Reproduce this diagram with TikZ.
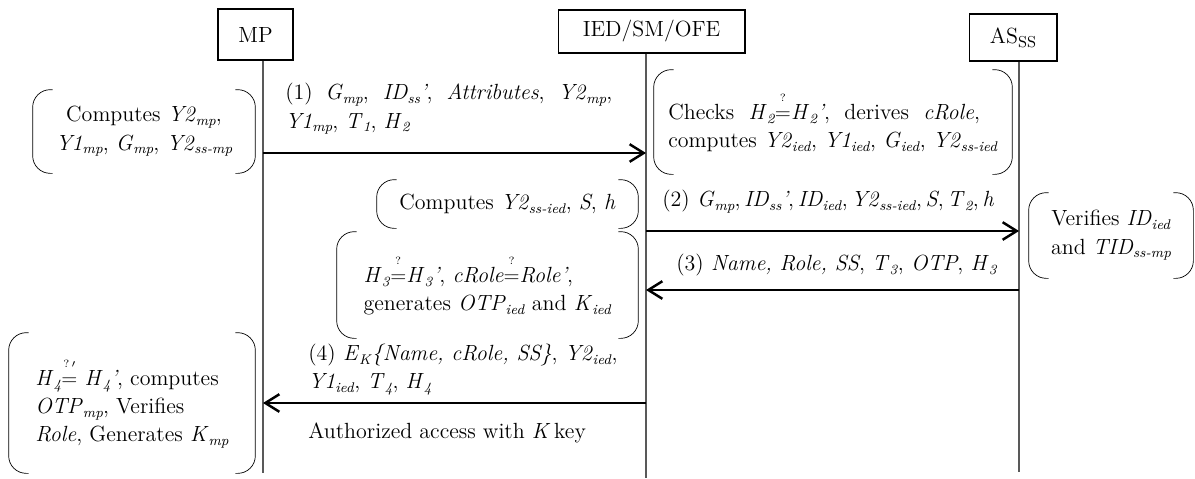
\documentclass[tikz,border=0pt]{standalone}
\usepackage{amsmath}
\usepackage{amssymb}
\usepackage{tikz}
\usetikzlibrary{arrows.meta}

\newcommand{\iv}[2]{\textit{#1}\raisebox{-0.4ex}{\fontsize{8}{8}\selectfont\textit{#2}}}
\newcommand{\qeq}[1]{$\stackrel{\raisebox{0.6ex}{$\scriptscriptstyle #1$}}{=}$}
\newcommand{\brk}[1]{%
	\draw[rounded corners=10pt] ([xshift=0.4cm]#1.north west) -- (#1.north west) -- (#1.south west) -- ([xshift=0.4cm]#1.south west);
	\draw[rounded corners=10pt] ([xshift=-0.4cm]#1.north east) -- (#1.north east) -- (#1.south east) -- ([xshift=-0.4cm]#1.south east);}

\begin{document}
\begin{tikzpicture}[x=0.02cm,y=-0.02cm,font=\fontsize{12.5}{16}\selectfont]
	\tikzstyle{entity}=[draw,line width=0.6pt,inner sep=0pt]
	\tikzstyle{lifeline}=[draw=black!65,line width=0.8pt]
	\tikzstyle{msg}=[line width=1.4pt,-{Straight Barb[length=8pt,width=10pt]}]
	\tikzstyle{note}=[inner sep=0pt,align=center]
	\tikzstyle{lbl}=[inner sep=0pt,anchor=west,align=left]
	
	\useasboundingbox (0,0) rectangle (1195,478);
	
	\node [entity,minimum width=1.5cm,minimum height=1.02cm] (mp) at (255.5,34.5) {MP};
	\node [entity,minimum width=3.74cm,minimum height=0.86cm] (ied) at (651.5,31.5) {IED/SM/OFE};
	\node [entity,minimum width=1.76cm,minimum height=0.94cm] (as) at (1013,37.5) {AS\raisebox{-0.4ex}{\fontsize{9}{9}\selectfont SS}};
	
	\coordinate (mpEnd) at (263,473);
	\coordinate (iedEnd) at (646,478);
	\coordinate (asEnd) at (1019,472);
	\draw [lifeline] (mp.south -| mpEnd) -- (mpEnd);
	\draw [lifeline] (ied.south -| iedEnd) -- (iedEnd);
	\draw [lifeline] (as.south -| asEnd) -- (asEnd);
	
	\node [note,minimum width=4.44cm,minimum height=1.66cm] (cmp) at (144,131.5) {Computes \iv{Y2}{mp},\\ \iv{Y1}{mp}, \iv{G}{mp}, \iv{Y2}{ss-mp}};
	\node [note,align=left,minimum width=7.16cm,minimum height=2.08cm] (chk) at (833,122) {Checks \ \iv{H}{2}\qeq{?}\iv{H}{2}\textit{'}, \ derives \ \textit{cRole},\\ computes \iv{Y2}{ied}, \iv{Y1}{ied}, \iv{G}{ied}, \iv{Y2}{ss-ied}};
	\node [note,minimum width=5.22cm,minimum height=0.96cm] (css) at (507.5,204) {Computes \iv{Y2}{ss-ied}, \textit{S}, \textit{h}};
	\node [note,minimum width=3.28cm,minimum height=1.7cm] (ver) at (1111,235.5) {Verifies \iv{ID}{ied}\\ and \iv{TID}{ss-mp}};
	\node [note,align=left,minimum width=6.02cm,minimum height=2.12cm] (h3) at (487.5,285) {\iv{H}{3}\qeq{?}\iv{H}{3}\textit{'}, \textit{cRole}\qeq{?}\textit{Role'},\\ generates \iv{OTP}{ied} and \iv{K}{ied}};
	\node [note,align=left,minimum width=4.92cm,minimum height=2.8cm] (h4) at (132,403) {\iv{H}{4}\qeq{?\,\prime} \iv{H}{4}\textit{'}, computes\\ \iv{OTP}{mp}, Verifies\\ \textit{Role}, Generates \iv{K}{mp}};
	\brk{cmp}
	\brk{chk}
	\brk{css}
	\brk{ver}
	\brk{h3}
	\brk{h4}
	
	\node [lbl,text width=6.54cm,align=justify] (m1) at (285,109) {(1) \iv{G}{mp}, \iv{ID}{ss}\textit{'}, \textit{Attributes}, \iv{Y2}{mp},\linebreak \iv{Y1}{mp}, \iv{T}{1}, \iv{H}{2}};
	\node [lbl] (m2) at (662,202) {(2) \iv{G}{mp},\,\iv{ID}{ss}\textit{'},\,\iv{ID}{ied},\,\iv{Y2}{ss-ied},\,\textit{S},\,\iv{T}{2},\,\textit{h}};
	\node [lbl] (m3) at (676,265) {(3) \textit{Name, Role, SS}, \iv{T}{3}, \textit{OTP}, \iv{H}{3}};
	\node [lbl] (m4) at (308,369.5) {(4) \iv{E}{K}\textit{\{Name, cRole, SS\}}, \iv{Y2}{ied},\\ \iv{Y1}{ied}, \iv{T}{4}, \iv{H}{4}};
	\node [lbl] (auth) at (308,433) {Authorized access with \textit{K}\,key};
	
	\coordinate (mp1) at (263,153);
	\coordinate (ied1) at (646,153);
	\coordinate (ied2) at (646,231);
	\coordinate (as2) at (1019,231);
	\coordinate (as3) at (1019,290);
	\coordinate (ied3) at (646,290);
	\coordinate (ied4) at (646,403);
	\coordinate (mp4) at (263,403);
	\draw [msg] (mp1) -- (ied1);
	\draw [msg] (ied2) -- (as2);
	\draw [msg] (as3) -- (ied3);
	\draw [msg] (ied4) -- (mp4);
\end{tikzpicture}
\end{document}
